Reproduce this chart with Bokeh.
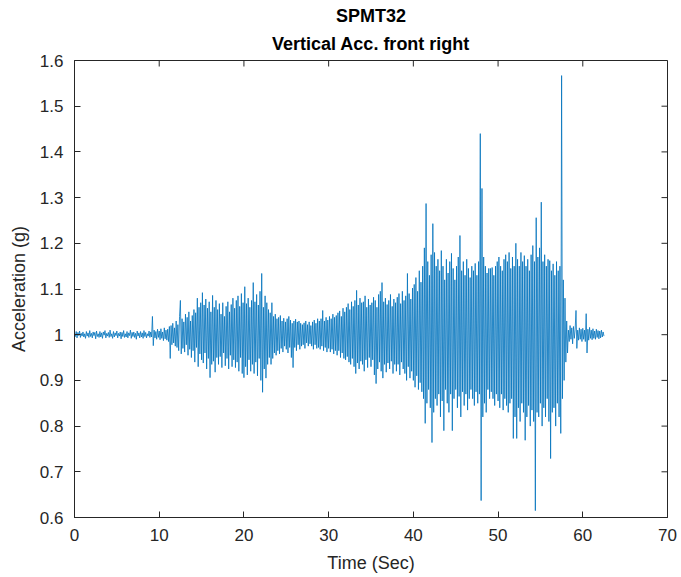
import numpy as np
from bokeh.plotting import figure
from bokeh.models import (Title, SingleIntervalTicker, CustomJSTickFormatter,
                          Range1d, ColumnDataSource)
from bokeh.embed import file_html
from bokeh.resources import INLINE

dt = 0.1
acc = [
    1.004, 0.996, 1.007, 0.993, 1.005, 0.998, 1.008, 0.994, 1.003, 0.997,
    1.006, 0.995, 1.002, 0.992, 1.007, 0.997, 1.004, 0.994, 1.009, 0.996,
    1.003, 0.993, 1.006, 0.998, 1.005, 0.991, 1.008, 0.996, 1.002, 0.994,
    1.007, 0.995, 1.004, 0.992, 1.006, 0.999, 1.009, 0.993, 1.003, 0.997,
    1.005, 0.994, 1.010, 0.996, 1.002, 0.992, 1.007, 0.995, 1.004, 0.998,
    1.008, 0.993, 1.003, 0.997, 1.006, 0.991, 1.005, 0.996, 1.009, 0.994,
    1.002, 0.995, 1.007, 0.993, 1.004, 0.998, 1.010, 0.992, 1.005, 0.996,
    1.006, 0.994, 1.003, 0.990, 1.008, 0.997, 1.004, 0.993, 1.007, 0.995,
    1.004, 0.992, 1.009, 0.996, 1.005, 0.993, 1.002, 0.997, 1.008, 0.994,
    1.006, 0.995, 1.040, 0.976, 1.010, 0.993, 1.007, 0.990, 1.012, 0.994,
    1.008, 0.989, 1.013, 0.992, 1.006, 0.987, 1.015, 0.991, 1.010, 0.988,
    1.012, 0.985, 1.018, 0.948, 1.020, 0.978, 1.025, 0.982, 1.015, 0.975,
    1.030, 0.972, 1.022, 0.965, 1.040, 1.075, 0.958, 1.035, 0.970, 1.028,
    0.962, 1.045, 0.978, 1.038, 0.955, 1.050, 0.968, 1.030, 0.950, 1.042,
    0.965, 1.055, 0.940, 1.048, 0.972, 1.080, 0.930, 1.060, 0.958, 1.070,
    0.945, 1.092, 0.938, 1.065, 0.960, 1.078, 0.925, 1.058, 0.948, 1.072,
    0.906, 1.050, 0.935, 1.086, 0.942, 1.060, 0.918, 1.075, 0.950, 1.055,
    0.935, 1.068, 0.952, 1.045, 0.928, 1.070, 0.960, 1.040, 0.932, 1.062,
    0.948, 1.072, 0.925, 1.050, 0.955, 1.066, 0.930, 1.080, 0.945, 1.058,
    0.928, 1.075, 0.940, 1.085, 0.920, 1.062, 0.950, 1.090, 0.915, 1.070,
    0.906, 1.105, 0.930, 1.068, 0.912, 1.080, 0.945, 1.060, 0.920, 1.075,
    0.935, 1.114, 0.915, 1.072, 0.940, 1.088, 0.910, 1.065, 0.948, 1.095,
    0.900, 1.134, 0.874, 1.060, 0.925, 1.085, 0.905, 1.070, 0.935, 1.055,
    0.950, 1.048, 0.935, 1.070, 0.948, 1.040, 0.960, 1.045, 0.955, 1.035,
    0.965, 1.038, 0.958, 1.042, 0.970, 1.030, 0.962, 1.036, 0.975, 1.028,
    0.968, 1.035, 0.960, 1.040, 0.972, 1.032, 0.950, 1.025, 0.928, 1.030,
    0.972, 1.034, 0.965, 1.028, 0.978, 1.030, 0.968, 1.025, 0.975, 1.022,
    0.978, 1.026, 0.970, 1.030, 0.982, 1.022, 0.975, 1.028, 0.980, 1.020,
    0.975, 1.028, 0.968, 1.032, 0.978, 1.025, 0.970, 1.035, 0.972, 1.030,
    0.968, 1.035, 0.975, 1.053, 0.965, 1.030, 0.972, 1.038, 0.962, 1.032,
    0.970, 1.040, 0.962, 1.035, 0.968, 1.045, 0.958, 1.038, 0.965, 1.042,
    0.955, 1.048, 0.965, 1.052, 0.950, 1.040, 0.960, 1.058, 0.948, 1.050,
    0.945, 1.060, 0.952, 1.068, 0.940, 1.055, 0.935, 1.072, 0.948, 1.062,
    0.930, 1.075, 0.915, 1.097, 0.938, 1.065, 0.925, 1.080, 0.942, 1.070,
    0.935, 1.072, 0.920, 1.085, 0.945, 1.060, 0.928, 1.078, 0.950, 1.065,
    0.930, 1.070, 0.945, 1.082, 0.912, 1.075, 0.893, 1.060, 0.925, 1.088,
    0.940, 1.095, 0.920, 1.114, 0.905, 1.072, 0.935, 1.080, 0.918, 1.066,
    0.938, 1.075, 0.925, 1.088, 0.942, 1.062, 0.915, 1.078, 0.935, 1.070,
    0.920, 1.082, 0.935, 1.090, 0.912, 1.068, 0.940, 1.095, 0.925, 1.075,
    0.915, 1.085, 0.900, 1.134, 0.930, 1.090, 0.905, 1.078, 0.920, 1.102,
    0.900, 1.110, 0.885, 1.125, 0.910, 1.095, 0.880, 1.140, 0.895, 1.115,
    0.875, 1.150, 0.860, 1.190, 0.806, 1.287, 0.850, 1.160, 0.880, 1.130,
    0.840, 1.175, 0.764, 1.243, 0.830, 1.180, 0.860, 1.150, 0.845, 1.165,
    0.870, 1.140, 0.820, 1.184, 0.855, 1.150, 0.790, 1.120, 0.880, 1.165,
    0.850, 1.135, 0.830, 1.160, 0.870, 1.178, 0.790, 1.145, 0.860, 1.120,
    0.880, 1.150, 0.840, 1.170, 0.865, 1.217, 0.820, 1.140, 0.875, 1.160,
    0.845, 1.130, 0.870, 1.165, 0.835, 1.145, 0.860, 1.125, 0.880, 1.150,
    0.860, 1.140, 0.845, 1.156, 0.875, 1.130, 0.850, 1.160, 0.870, 1.440,
    0.637, 1.320, 0.820, 1.170, 0.850, 1.150, 0.830, 1.135, 0.880, 1.145,
    0.860, 1.145, 0.875, 1.147, 0.860, 1.130, 0.845, 1.150, 0.870, 1.160,
    0.855, 1.170, 0.840, 1.150, 0.870, 1.140, 0.835, 1.165, 0.860, 1.175,
    0.845, 1.160, 0.830, 1.180, 0.850, 1.145, 0.860, 1.170, 0.773, 1.150,
    0.820, 1.200, 0.773, 1.165, 0.840, 1.150, 0.810, 1.180, 0.850, 1.160,
    0.830, 1.173, 0.769, 1.150, 0.820, 1.165, 0.845, 1.140, 0.800, 1.175,
    0.835, 1.195, 0.810, 1.160, 0.615, 1.256, 0.830, 1.170, 0.820, 1.190,
    0.850, 1.290, 0.800, 1.160, 0.840, 1.175, 0.820, 1.150, 0.860, 1.165,
    0.810, 1.162, 0.729, 1.140, 0.830, 1.155, 0.840, 1.130, 0.800, 1.160,
    0.850, 1.140, 0.820, 1.150, 0.784, 1.567, 0.860, 1.120, 0.900, 1.080,
    0.940, 1.030, 0.960, 1.010, 0.985, 1.020, 0.990, 1.015, 0.980, 1.018,
    0.992, 1.012, 1.053, 0.970, 1.010, 0.988, 1.015, 0.990, 1.012, 0.985,
    1.014, 0.990, 1.010, 0.985, 1.046, 0.960, 1.012, 0.988, 1.016, 0.992,
    1.010, 0.989, 1.013, 0.992, 1.008, 0.990, 1.012, 0.994, 1.009, 0.991,
    1.008, 0.993, 1.010, 0.995, 1.006, 0.997,
]
time = np.arange(len(acc)) * dt

x_ticks = [0, 10, 20, 30, 40, 50, 60, 70]
y_ticks = [0.6, 0.7, 0.8, 0.9, 1.0, 1.1, 1.2, 1.3, 1.4, 1.5, 1.6]

title_main = "SPMT32"
title_sub = "Vertical Acc. front right"
x_label = "Time (Sec)"
y_label = "Acceleration (g)"

FONT = "Liberation Sans"
TXT = "#262626"

p = figure(width=681, height=577, output_backend="svg", toolbar_location=None,
           x_range=Range1d(0, 70), y_range=Range1d(0.6, 1.6), title=None,
           min_border_left=74, min_border_right=14, min_border_top=60,
           min_border_bottom=60, background_fill_color="white",
           border_fill_color="white")
p.grid.visible = False
p.outline_line_color = TXT
p.outline_line_width = 1

src = ColumnDataSource(dict(t=time, a=acc))
p.line("t", "a", source=src, line_color="#0072BD", line_width=0.8)

# mirrored inward tick marks on the top and right edges of the box
p.ray(x=x_ticks, y=[1.6] * len(x_ticks), length=6, length_units="screen",
      angle=-np.pi / 2, line_color=TXT, line_width=1)
p.ray(x=[70] * len(y_ticks), y=y_ticks, length=6, length_units="screen",
      angle=np.pi, line_color=TXT, line_width=1)

fmt = CustomJSTickFormatter(code="return (Math.round(tick*10)/10).toString();")

def style_axis(ax):
    ax.axis_line_color = TXT
    ax.major_tick_line_color = TXT
    ax.major_tick_in = 6
    ax.major_tick_out = 0
    ax.minor_tick_line_color = None
    ax.major_label_text_font = FONT
    ax.major_label_text_font_size = "17px"
    ax.major_label_text_color = TXT
    ax.axis_label_text_font = FONT
    ax.axis_label_text_font_size = "18px"
    ax.axis_label_text_font_style = "normal"
    ax.axis_label_text_color = TXT

xax = p.xaxis[0]
xax.ticker = SingleIntervalTicker(interval=10)
xax.axis_label = x_label
style_axis(xax)
xax.major_label_standoff = 7
xax.axis_label_standoff = 9

yax = p.yaxis[0]
yax.ticker = SingleIntervalTicker(interval=0.1)
yax.formatter = fmt
yax.axis_label = y_label
style_axis(yax)
yax.major_label_standoff = 7
yax.axis_label_standoff = 8

p.add_layout(Title(text=title_sub, align="center", text_font=FONT,
                   text_font_size="18px", text_font_style="bold",
                   text_color="black", standoff=13), "above")
p.add_layout(Title(text=title_main, align="center", text_font=FONT,
                   text_font_size="18px", text_font_style="bold",
                   text_color="black", standoff=0, text_line_height=0.7), "above")

open("out.html", "w").write(file_html(p, INLINE))
